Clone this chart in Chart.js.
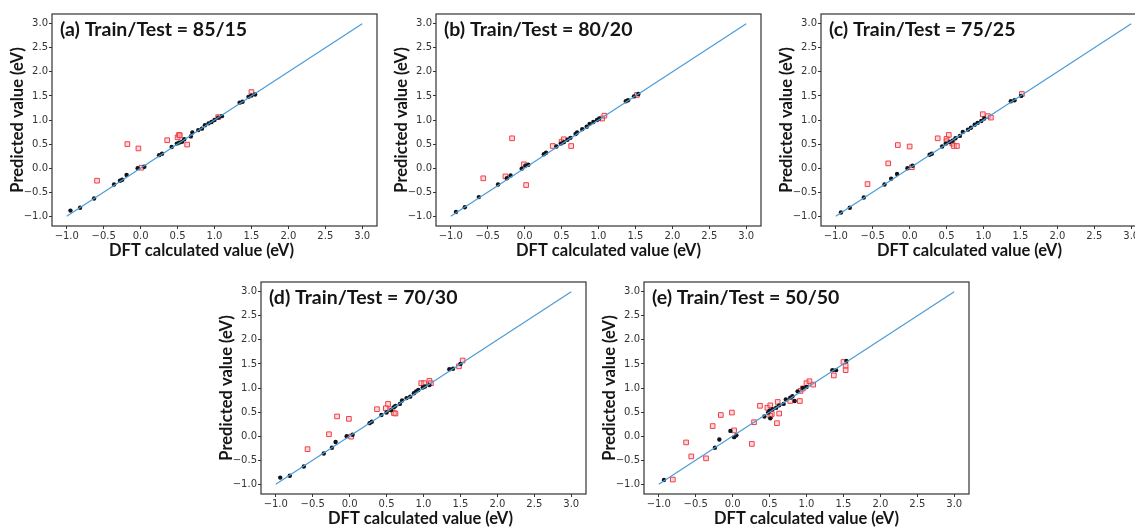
<!DOCTYPE html>
<html><head><meta charset="utf-8">
<script src="https://cdn.jsdelivr.net/npm/chart.js@4.4.1/dist/chart.umd.min.js"></script>
<style>
html,body{margin:0;padding:0;background:#fff;overflow:hidden;width:1135px;height:528px;}
canvas{position:absolute;}
</style></head><body>
<canvas id="cA"></canvas><canvas id="cB"></canvas><canvas id="cC"></canvas><canvas id="cD"></canvas><canvas id="cE"></canvas>
<script>
// ---------- data ----------
const tickValues = [-1.0, -0.5, 0.0, 0.5, 1.0, 1.5, 2.0, 2.5, 3.0];
const parityX = [-1, 3];
const parityY = [-1, 3];
const xAxisTitle = 'DFT calculated value (eV)';
const yAxisTitle = 'Predicted value (eV)';
const panelTitles = ['(a) Train/Test = 85/15', '(b) Train/Test = 80/20', '(c) Train/Test = 75/25', '(d) Train/Test = 70/30', '(e) Train/Test = 50/50'];

const aTrainX = [-0.95,-0.82,-0.63,-0.36,-0.28,-0.25,-0.19,-0.04,0.05,0.25,0.29,0.42,0.49,0.52,0.56,0.59,0.68,0.70,0.78,0.83,0.87,0.92,0.96,1.00,1.05,1.10,1.34,1.38,1.46,1.50,1.55];
const aTrainY = [-0.88,-0.82,-0.63,-0.34,-0.26,-0.24,-0.14,0.00,0.03,0.27,0.30,0.44,0.51,0.53,0.55,0.60,0.66,0.74,0.79,0.82,0.89,0.93,0.96,1.00,1.05,1.08,1.36,1.38,1.48,1.51,1.53];
const aTestX = [-0.59,-0.18,-0.03,0.01,0.36,0.50,0.52,0.53,0.63,1.05,1.50];
const aTestY = [-0.26,0.50,0.41,0.01,0.58,0.64,0.69,0.68,0.49,1.06,1.58];

const bTrainX = [-0.93,-0.81,-0.62,-0.36,-0.24,-0.19,-0.04,0.01,0.05,0.26,0.29,0.43,0.49,0.53,0.58,0.62,0.69,0.71,0.78,0.84,0.88,0.93,0.98,1.01,1.37,1.40,1.48,1.54];
const bTrainY = [-0.91,-0.81,-0.60,-0.34,-0.21,-0.15,-0.01,0.05,0.07,0.29,0.32,0.45,0.51,0.54,0.59,0.63,0.71,0.74,0.81,0.86,0.92,0.96,1.00,1.03,1.39,1.41,1.49,1.54];
const bTestX = [-0.56,-0.17,-0.26,-0.01,0.02,0.38,0.50,0.53,0.63,1.05,1.08,1.52];
const bTestY = [-0.21,0.62,-0.17,0.08,-0.35,0.46,0.55,0.60,0.46,1.03,1.09,1.52];

const cTrainX = [-0.93,-0.81,-0.62,-0.34,-0.25,-0.17,-0.03,0.04,0.27,0.30,0.44,0.49,0.54,0.58,0.62,0.68,0.72,0.79,0.83,0.88,0.92,0.97,1.01,1.37,1.42,1.51];
const cTrainY = [-0.92,-0.82,-0.61,-0.34,-0.22,-0.12,0.00,0.05,0.28,0.30,0.45,0.51,0.54,0.57,0.62,0.67,0.75,0.80,0.84,0.90,0.94,0.98,1.03,1.39,1.41,1.50];
const cTestX = [-0.57,-0.29,-0.16,0.00,0.03,0.38,0.50,0.53,0.50,0.58,0.60,0.64,0.99,1.06,1.10,1.52];
const cTestY = [-0.33,0.10,0.48,0.45,0.02,0.62,0.61,0.69,0.56,0.51,0.46,0.46,1.12,1.08,1.05,1.54];

const dTrainX = [-0.94,-0.81,-0.62,-0.35,-0.24,-0.19,-0.04,0.04,0.27,0.30,0.43,0.50,0.56,0.60,0.62,0.68,0.71,0.77,0.82,0.87,0.90,0.93,0.99,1.02,1.08,1.35,1.40,1.50];
const dTrainY = [-0.86,-0.82,-0.63,-0.36,-0.24,-0.12,0.00,0.03,0.27,0.30,0.44,0.49,0.54,0.60,0.63,0.67,0.74,0.79,0.82,0.89,0.93,0.96,1.01,1.03,1.06,1.39,1.40,1.50];
const dTestX = [-0.57,-0.28,-0.17,-0.01,0.02,0.37,0.49,0.52,0.55,0.60,0.62,0.97,1.01,1.08,1.10,1.48,1.53];
const dTestY = [-0.27,0.04,0.41,0.36,-0.01,0.56,0.58,0.67,0.56,0.48,0.47,1.10,1.10,1.15,1.10,1.45,1.57];

const eTrainX = [-0.93,-0.24,-0.18,-0.03,0.02,0.05,0.43,0.48,0.50,0.51,0.54,0.59,0.63,0.69,0.72,0.78,0.81,0.84,0.88,0.95,1.00,1.35,1.40,1.54];
const eTrainY = [-0.91,-0.24,-0.07,0.11,-0.02,0.02,0.41,0.49,0.53,0.37,0.56,0.59,0.64,0.67,0.76,0.80,0.83,0.73,0.93,1.00,1.02,1.37,1.37,1.56];
const eTestX = [-0.81,-0.63,-0.56,-0.36,-0.27,-0.16,-0.01,0.02,0.26,0.29,0.37,0.47,0.51,0.53,0.51,0.60,0.61,0.63,0.78,0.91,0.92,0.95,1.00,1.04,1.09,1.37,1.50,1.53,1.53];
const eTestY = [-0.90,-0.13,-0.42,-0.46,0.21,0.44,0.49,0.12,-0.16,0.29,0.63,0.59,0.64,0.46,0.42,0.27,0.71,0.47,0.73,0.73,0.94,0.99,1.10,1.14,1.07,1.26,1.54,1.46,1.37];

// ---------- layout ----------
const AREA_W = 325, AREA_H = 215;
const PAD_L = 52, PAD_T = 4, PAD_R = 6, PAD_B = 38;
const panels = [
  {id:'cA', left:52,    top:10.5, shift:-13, title:panelTitles[0], train:[aTrainX,aTrainY], test:[aTestX,aTestY]},
  {id:'cB', left:435.5, top:11,   shift:10,  title:panelTitles[1], train:[bTrainX,bTrainY], test:[bTestX,bTestY]},
  {id:'cC', left:820.5, top:11,   shift:-14, title:panelTitles[2], train:[cTrainX,cTrainY], test:[cTestX,cTestY]},
  {id:'cD', left:260.5, top:278.5,shift:-3,  title:panelTitles[3], train:[dTrainX,dTrainY], test:[dTestX,dTestY]},
  {id:'cE', left:643.5, top:278.5,shift:0,   title:panelTitles[4], train:[eTrainX,eTrainY], test:[eTestX,eTestY]}
];

const zip = (xs, ys) => xs.map((x, i) => ({x: x, y: ys[i]}));
const fmt = v => (Math.abs(v) < 1e-9 ? 0 : v).toFixed(1).replace('-', '\u2212');
const TITLE_FONT = 'Lato, "Open Sans", sans-serif';

const framePlugin = {
  id: 'frameTitle',
  afterDatasetsDraw(chart, args, opts) {
    const {ctx, chartArea: a} = chart;
    ctx.save();
    ctx.strokeStyle = '#333';
    ctx.lineWidth = 1.2;
    ctx.strokeRect(a.left, a.top, a.right - a.left, a.bottom - a.top);
    ctx.font = 'bold 19.5px ' + TITLE_FONT;
    ctx.fillStyle = '#151515';
    ctx.textBaseline = 'alphabetic';
    ctx.textAlign = 'left';
    ctx.fillText(opts.text, a.left + 8, a.top + 21.5);
    ctx.restore();
  },
  afterDraw(chart, args, opts) {
    // x axis title, horizontally offset as in the source figure
    const {ctx, chartArea: a} = chart;
    ctx.save();
    ctx.font = 'bold 16.5px ' + TITLE_FONT;
    ctx.fillStyle = '#151515';
    ctx.textAlign = 'center';
    ctx.textBaseline = 'middle';
    ctx.fillText(opts.xTitle, (a.left + a.right) / 2 + opts.shift, a.bottom + 25);
    ctx.restore();
  }
};

function axis(isX) {
  return {
    type: 'linear',
    min: -1.2, max: 3.2,
    afterBuildTicks: s => { s.ticks = tickValues.map(v => ({value: v})); },
    afterFit: s => { if (isX) s.height = PAD_B; else s.width = PAD_L; },
    grid: {display: true, drawOnChartArea: false, drawTicks: true, tickLength: 3, color: '#333', lineWidth: 1},
    border: {display: false},
    ticks: {
      autoSkip: false, maxRotation: 0, minRotation: 0,
      padding: 1,
      color: '#333',
      font: {family: '"DejaVu Sans", sans-serif', size: 10},
      callback: v => fmt(v)
    },
    title: {
      display: !isX,
      text: isX ? xAxisTitle : yAxisTitle,
      color: '#151515',
      font: {family: TITLE_FONT, size: 16.5, weight: 'bold', lineHeight: 1.2},
      padding: {top: 8, bottom: 0}
    }
  };
}

panels.forEach(p => {
  const cv = document.getElementById(p.id);
  const W = PAD_L + AREA_W + PAD_R, H = PAD_T + AREA_H + PAD_B;
  cv.width = W; cv.height = H;
  cv.style.width = W + 'px'; cv.style.height = H + 'px';
  cv.style.left = (p.left - PAD_L) + 'px';
  cv.style.top = (p.top - PAD_T) + 'px';
  new Chart(cv, {
    type: 'scatter',
    data: {
      datasets: [
        {label: 'y = x', type: 'line', data: zip(parityX, parityY), borderColor: '#4d9bd6', borderWidth: 1.2, pointRadius: 0, fill: false, order: 1},
        {label: 'Train', data: zip(p.train[0], p.train[1]), pointStyle: 'circle', pointRadius: 2.2, backgroundColor: '#111418', borderWidth: 0, order: 2},
        {label: 'Test', data: zip(p.test[0], p.test[1]), pointStyle: 'rect', pointRadius: 3.3, backgroundColor: 'rgba(255,170,170,0.45)', borderColor: '#f0404a', borderWidth: 1, order: 3}
      ]
    },
    options: {
      responsive: false, maintainAspectRatio: false, animation: false, devicePixelRatio: 1,
      layout: {padding: {left: 0, top: PAD_T, right: PAD_R, bottom: 0}, autoPadding: false},
      plugins: {legend: {display: false}, tooltip: {enabled: false}, frameTitle: {text: p.title, xTitle: xAxisTitle, shift: p.shift}},
      scales: {x: axis(true), y: axis(false)}
    },
    plugins: [framePlugin]
  });
});
</script>
</body></html>
